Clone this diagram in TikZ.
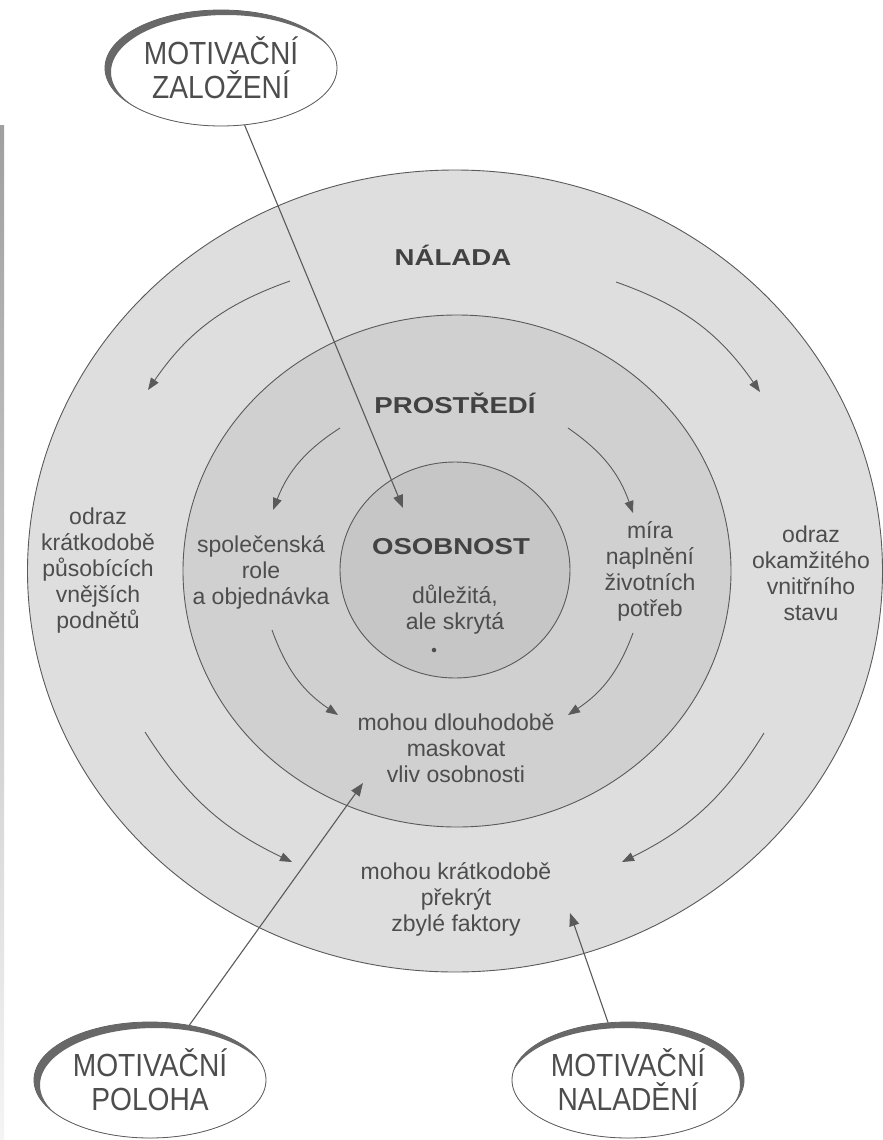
\documentclass[tikz,border=0pt]{standalone}
\usepackage{fontspec}
\setmainfont{Liberation Sans}
\newfontfamily\titlefam{Liberation Sans}[FakeStretch=1.2]
\newfontfamily\ovalfam{Liberation Sans}[FakeStretch=0.88]
\usetikzlibrary{shapes.geometric,arrows.meta}
\definecolor{outerc}{HTML}{DEDEDE}
\definecolor{midc}{HTML}{D0D0D0}
\definecolor{innc}{HTML}{C6C6C6}
\definecolor{linec}{HTML}{5A5A5A}
\definecolor{textc}{HTML}{4D4D4D}
\definecolor{shadec}{HTML}{686868}
\newcommand\ovalshade[3]{%
  \begin{scope}
    \clip (#1.center) ellipse (116 and 58);
    \fill[shadec, even odd rule] (#1.center) ellipse (116 and 58)
      ([shift={(#2,#3)}]#1.center) ellipse (115 and 57);
  \end{scope}}
\begin{document}
\begin{tikzpicture}[x=1pt,y=-1pt,
  ring/.style={ellipse, draw=linec, line width=0.9pt, inner sep=0pt},
  arr/.style={draw=linec, line width=0.9pt, -{Triangle[length=12pt,width=9pt]}},
  longarr/.style={draw=linec, line width=1.1pt, -{Triangle[length=13pt,width=10pt]}},
  body/.style={text=textc, align=center, font=\fontsize{23}{26}\selectfont},
  title/.style={text=textc!85!black, font=\titlefam\bfseries\fontsize{23}{26}\selectfont},
  oval/.style={ellipse, draw=linec, line width=0.8pt, fill=white, minimum width=232pt,
    minimum height=116pt, inner sep=0pt, align=center, text=textc,
    font=\ovalfam\fontsize{32}{34}\selectfont},
  dotmark/.style={circle, fill=textc, inner sep=1.6pt}]
\useasboundingbox (0,0) rectangle (883,1140);
\fill[white] (0,0) rectangle (883,1140);
\shade[top color=gray!75, bottom color=gray!8] (0,125) rectangle (4,1140);

% rings
\node[ring, fill=outerc, minimum width=855pt, minimum height=802pt] (outer) at (455,571) {};
\node[ring, fill=midc, minimum width=548pt, minimum height=512pt] (mid) at (457,571) {};
\node[ring, fill=innc, minimum width=230pt, minimum height=216pt] (inner) at (455,570) {};

% titles
\node[title] (nalada) at (453,255) {NÁLADA};
\node[title] (prostredi) at (455,403) {PROSTŘEDÍ};
\node[title] (osobnost) at (451,547) {OSOBNOST};

% body texts
\node[body] (dul) at (455,610) {důležitá,\\ale skrytá};
\node[dotmark] (dot) at (434,650) {};
\node[body] (odrazL) at (98,571) {odraz\\krátkodobě\\působících\\vnějších\\podnětů};
\node[body] (spol) at (261,572) {společenská\\role\\a objednávka};
\node[body] (mira) at (650,571) {míra\\naplnění\\životních\\potřeb};
\node[body] (odrazR) at (811,573) {odraz\\okamžitého\\vnitřního\\stavu};
\node[body] (masko) at (456,748) {mohou dlouhodobě\\maskovat\\vliv osobnosti};
\node[body] (prekryt) at (456,899) {mohou krátkodobě\\překrýt\\zbylé faktory};

% curved arrows, outer ring
\coordinate (o1s) at (290,281); \coordinate (o1e) at (148,390);
\coordinate (o2s) at (616,282); \coordinate (o2e) at (760,392);
\coordinate (o3s) at (145,732); \coordinate (o3e) at (292,862);
\coordinate (o4s) at (764,733); \coordinate (o4e) at (622,862);
\draw[arr] (o1s) to[bend right=18] (o1e);
\draw[arr] (o2s) to[bend left=18] (o2e);
\draw[arr] (o3s) to[bend right=16] (o3e);
\draw[arr] (o4s) to[bend left=16] (o4e);

% curved arrows, middle ring
\coordinate (m1s) at (340,428); \coordinate (m1e) at (273,510);
\coordinate (m2s) at (568,428); \coordinate (m2e) at (633,513);
\coordinate (m3s) at (272,630); \coordinate (m3e) at (338,715);
\coordinate (m4s) at (633,633); \coordinate (m4e) at (568,715);
\draw[arr] (m1s) to[bend right=18] (m1e);
\draw[arr] (m2s) to[bend left=18] (m2e);
\draw[arr] (m3s) to[bend right=18] (m3e);
\draw[arr] (m4s) to[bend left=18] (m4e);

% ovals
\node[oval] (zal) at (221,68) {MOTIVAČNÍ\\ZALOŽENÍ};
\ovalshade{zal}{5}{4}
\node[oval] (pol) at (150,1080) {MOTIVAČNÍ\\POLOHA};
\ovalshade{pol}{5}{5}
\node[oval] (nal) at (628,1080) {MOTIVAČNÍ\\NALADĚNÍ};
\ovalshade{nal}{-3}{5}

% straight arrows
\coordinate (h0) at (403,508);
\coordinate (h2) at (363,783);
\coordinate (h3) at (570,913);
\draw[longarr] (zal) -- (h0);
\draw[longarr] (pol) -- (h2);
\draw[longarr] (nal) -- (h3);
\end{tikzpicture}
\end{document}
